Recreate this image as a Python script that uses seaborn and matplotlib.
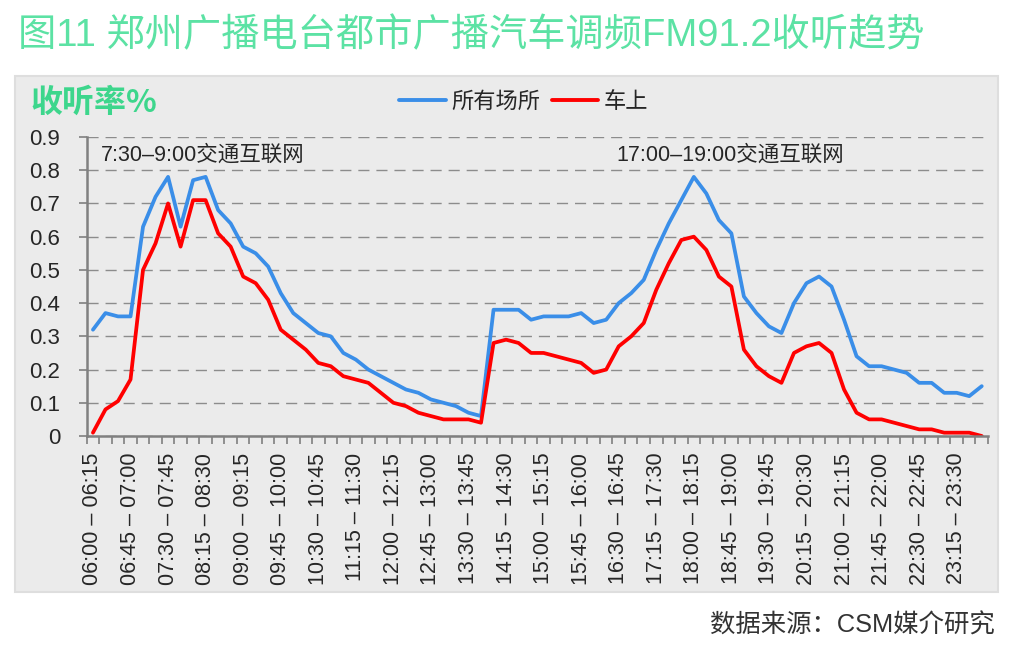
import matplotlib
matplotlib.use('Agg')
import numpy as np
import pandas as pd
import seaborn as sns
import matplotlib.pyplot as plt
from matplotlib.patches import Rectangle
from matplotlib.lines import Line2D

# 时段: 06:00 - 24:00, 每15分钟
slots = []
for i in range(72):
    s = 6 * 60 + 15 * i
    e = s + 15
    slots.append('%02d:%02d – %02d:%02d' % (s // 60, s % 60, e // 60, e % 60))

# 收听率%
all_places = [0.32, 0.37, 0.36, 0.36, 0.63, 0.72, 0.78, 0.63, 0.77, 0.78,
              0.68, 0.64, 0.57, 0.55, 0.51, 0.43, 0.37, 0.34, 0.31, 0.30,
              0.25, 0.23, 0.20, 0.18, 0.16, 0.14, 0.13, 0.11, 0.10, 0.09,
              0.07, 0.06, 0.38, 0.38, 0.38, 0.35, 0.36, 0.36, 0.36, 0.37,
              0.34, 0.35, 0.40, 0.43, 0.47, 0.56, 0.64, 0.71, 0.78, 0.73,
              0.65, 0.61, 0.42, 0.37, 0.33, 0.31, 0.40, 0.46, 0.48, 0.45,
              0.35, 0.24, 0.21, 0.21, 0.20, 0.19, 0.16, 0.16, 0.13, 0.13,
              0.12, 0.15]
in_car = [0.01, 0.08, 0.105, 0.17, 0.50, 0.58, 0.70, 0.57, 0.71, 0.71,
          0.61, 0.57, 0.48, 0.46, 0.41, 0.32, 0.29, 0.26, 0.22, 0.21,
          0.18, 0.17, 0.16, 0.13, 0.10, 0.09, 0.07, 0.06, 0.05, 0.05,
          0.05, 0.04, 0.28, 0.29, 0.28, 0.25, 0.25, 0.24, 0.23, 0.22,
          0.19, 0.20, 0.27, 0.30, 0.34, 0.44, 0.52, 0.59, 0.60, 0.56,
          0.48, 0.45, 0.26, 0.21, 0.18, 0.16, 0.25, 0.27, 0.28, 0.25,
          0.14, 0.07, 0.05, 0.05, 0.04, 0.03, 0.02, 0.02, 0.01, 0.01,
          0.01, 0.00]
series_names = ['所有场所', '车上']
colors = {'所有场所': '#3A8EE8', '车上': '#FF0000'}
yticks = [0, 0.1, 0.2, 0.3, 0.4, 0.5, 0.6, 0.7, 0.8, 0.9]
ytick_labels = ['0', '0.1', '0.2', '0.3', '0.4', '0.5', '0.6', '0.7', '0.8', '0.9']

df = pd.DataFrame({
    '时段': slots * 2,
    '收听率': all_places + in_car,
    '地点': [series_names[0]] * 72 + [series_names[1]] * 72,
})

sns.set_style('white')
plt.rcParams['font.family'] = ['Liberation Sans', 'Noto Sans CJK SC', 'DejaVu Sans']

W, H = 1036, 672
fig = plt.figure(figsize=(W / 100, H / 100), dpi=100)
fig.patches.append(Rectangle((15 / W, 1 - 592 / H), 983 / W, 516 / H,
                             transform=fig.transFigure, facecolor='#EBEBEB',
                             edgecolor='#DEDEDE', lw=1.5, zorder=-1))

ax = fig.add_axes([86.7 / W, 1 - 436 / H, 901.3 / W, 299 / H])
ax.set_facecolor('none')
sns.lineplot(data=df, x='时段', y='收听率', hue='地点', palette=colors,
             linewidth=2.7, sort=False, legend=False, ax=ax)

ax.set_xlim(-0.5, 71.5)
ax.set_ylim(0, 0.9)
ax.set_xlabel('')
ax.set_ylabel('')

ax.set_xticks(range(0, 72, 3))
ax.set_xticklabels(slots[::3], rotation=90, fontsize=15.5)
ax.set_xticks(np.arange(-0.5, 72, 1), minor=True)
ax.tick_params(axis='x', which='major', bottom=True, length=0, pad=12)
ax.tick_params(axis='x', which='minor', bottom=True, length=6, width=1.2,
               color='#808080', direction='out')
ax.set_yticks(yticks)
ax.set_yticklabels(ytick_labels, fontsize=16)
ax.tick_params(axis='y', left=True, length=6, width=1.2, color='#808080', pad=13)

ax.yaxis.grid(True, color='#8C8C8C', lw=1, ls=(0, (8, 5)))
ax.set_axisbelow(True)
for side in ['top', 'right']:
    ax.spines[side].set_visible(False)
for side in ['left', 'bottom']:
    ax.spines[side].set_color('#808080')
    ax.spines[side].set_linewidth(1.8)

ax.text(0.64, 0.846, '7:30–9:00交通互联网', fontsize=15.5, va='center', ha='left')
ax.text(41.8, 0.846, '17:00–19:00交通互联网', fontsize=15.5, va='center', ha='left')

handles = [Line2D([], [], color=colors[n], lw=2.8) for n in series_names]
fig.legend(handles, series_names, loc='center', bbox_to_anchor=(524 / W, 1 - 102 / H),
           ncol=2, frameon=False, fontsize=16, handlelength=2.1,
           handletextpad=0.25, columnspacing=0.5)

fig.text(18 / W, 1 - 36 / H, '图11 郑州广播电台都市广播汽车调频FM91.2收听趋势',
         fontsize=27.5, color='#5CE2A4', va='center', ha='left')
fig.text(30 / W, 1 - 103 / H, '收听率%', fontsize=23, fontweight='bold',
         color='#3DD68C', va='center', ha='left', family=['Noto Sans CJK SC'])
fig.text(995 / W, 1 - 626 / H, '数据来源：CSM媒介研究', fontsize=18.3,
         color='#333333', va='center', ha='right')

fig.savefig('out.png', dpi=100)
